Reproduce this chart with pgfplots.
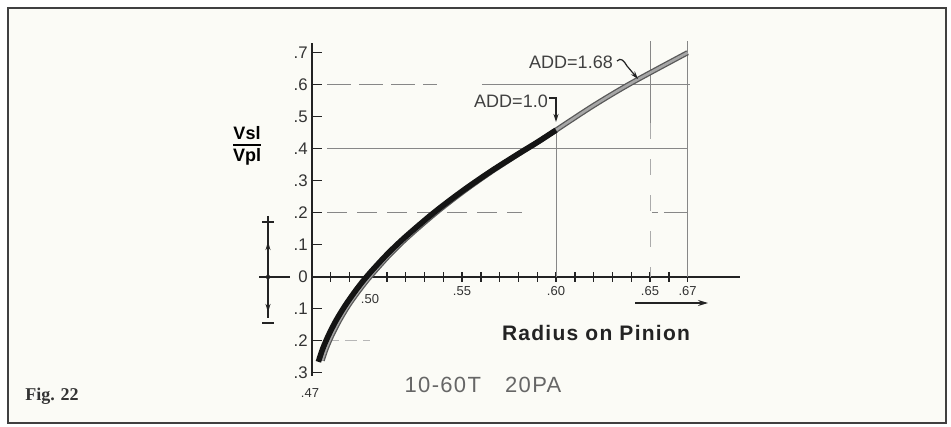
\documentclass[border=0pt]{standalone}
\usepackage{pgfplots}
\pgfplotsset{compat=1.18}
\usepackage{fontspec}
\setmainfont{Liberation Sans}
\newfontfamily\figserif{Liberation Serif}
\newfontfamily\spacedsans[LetterSpace=6]{Liberation Sans}
\usetikzlibrary{arrows.meta}
\definecolor{paper}{RGB}{251,251,246}
\definecolor{gridgray}{RGB}{135,135,135}
\definecolor{ink}{RGB}{35,35,35}
\begin{document}
\begin{tikzpicture}
\path[use as bounding box] (0,0) rectangle (475.5pt,213.5pt);
\fill[white] (0,0) rectangle (475.5pt,213.5pt);
\fill[paper] (4pt,2pt) rectangle (473pt,209.5pt);
\draw[line width=1pt, black!75] (4pt,2pt) rectangle (473pt,209.5pt);
\begin{axis}[
  at={(155.8pt,25.55pt)}, anchor=south west,
  x=940pt, y=160pt,
  xmin=0.47, xmax=0.698, ymin=-0.31, ymax=0.73,
  axis x line=middle, axis y line=left,
  axis line style={-, line width=0.9pt, ink},
  clip=false,
  tick align=center, major tick length=5pt, minor tick length=5pt,
  every tick/.style={ink, line width=0.7pt},
  ytick style={xshift=2.5pt},
  xtick={0.50,0.55,0.60,0.65,0.67},
  xticklabels={{},.55,.60,.65,.67},
  minor xtick={0.48,0.49,0.51,0.52,0.53,0.54,0.56,0.57,0.58,0.59,0.61,0.62,0.63,0.64,0.66},
  xticklabel style={font=\fontsize{6.5}{6.5}\selectfont, text=black!80, yshift=1pt},
  ytick={-0.3,-0.2,-0.1,0,0.1,0.2,0.3,0.4,0.5,0.6,0.7},
  yticklabels={.3,.2,.1,0,.1,.2,.3,.4,.5,.6,.7},
  yticklabel style={font=\fontsize{8.4}{9}\selectfont, text=black!80, inner sep=0.8pt, xshift=1.5pt},
  /pgf/number format/assume math mode=true,
]
% drafting grid lines
\addplot[gridgray, line width=0.5pt, dash pattern=on 12pt off 4pt] coordinates {(0.4782,0.6) (0.5367,0.6)};
\addplot[gridgray, line width=0.5pt] coordinates {(0.5606,0.6) (0.6713,0.6)};
\addplot[gridgray, line width=0.5pt] coordinates {(0.4782,0.4) (0.6702,0.4)};
\addplot[gridgray, line width=0.5pt, dash pattern=on 10pt off 5pt] coordinates {(0.4782,0.2) (0.5820,0.2)};
\addplot[gridgray, line width=0.5pt, dash pattern=on 3pt off 3pt on 10pt off 0pt] coordinates {(0.6510,0.2) (0.6702,0.2)};
\addplot[gridgray!60, line width=0.5pt, dash pattern=on 6pt off 3pt] coordinates {(0.4782,-0.2) (0.5010,-0.2)};
\addplot[gridgray, line width=0.5pt] coordinates {(0.60,0.0) (0.60,0.46)};
\addplot[gridgray, line width=0.5pt] coordinates {(0.65,0.735) (0.65,0.48)};
\addplot[gridgray!70, line width=0.5pt, dash pattern=on 8pt off 10pt] coordinates {(0.65,0.48) (0.65,0.0)};
\addplot[gridgray, line width=0.5pt] coordinates {(0.67,0.0) (0.67,0.735)};
% ADD = 1.68 (grey, outlined)
\addplot[black!65, line width=2.6pt, smooth] coordinates {
 (0.4756,-0.262) (0.4778,-0.224) (0.4808,-0.183) (0.4848,-0.137) (0.4898,-0.088)
 (0.4958,-0.039) (0.5018,0.005) (0.5116,0.069) (0.5214,0.125) (0.5362,0.200)
 (0.5509,0.267) (0.5656,0.328) (0.5803,0.384) (0.5902,0.420) (0.6000,0.458)
 (0.6200,0.535) (0.6400,0.605) (0.6700,0.700)};
\addplot[black!35, line width=1.3pt, smooth] coordinates {
 (0.4756,-0.262) (0.4778,-0.224) (0.4808,-0.183) (0.4848,-0.137) (0.4898,-0.088)
 (0.4958,-0.039) (0.5018,0.005) (0.5116,0.069) (0.5214,0.125) (0.5362,0.200)
 (0.5509,0.267) (0.5656,0.328) (0.5803,0.384) (0.5902,0.420) (0.6000,0.458)
 (0.6200,0.535) (0.6400,0.605) (0.6700,0.700)};
% ADD = 1.0 (black)
\addplot[black!92, line width=2.8pt, smooth] coordinates {
 (0.4736,-0.266) (0.4760,-0.224) (0.4790,-0.183) (0.4830,-0.137) (0.4880,-0.089)
 (0.4940,-0.039) (0.5000,0.005) (0.5100,0.069) (0.5200,0.125) (0.5350,0.200)
 (0.5500,0.267) (0.5650,0.328) (0.5800,0.384) (0.5900,0.420) (0.6000,0.458)};
\end{axis}
\begin{scope}[x=0.5pt,y=-0.5pt,shift={(0pt,213.5pt)}]
% +/- indicator
\draw[ink, line width=0.7pt] (268,226) -- (268,318);
\draw[ink, line width=0.7pt] (262,222) -- (274,222) (268,216) -- (268,228);
\draw[ink, line width=0.7pt] (262,323) -- (274,323);
\draw[ink, line width=0.7pt, -{Stealth[length=4pt,width=2.5pt]}] (268,262) -- (268,242);
\draw[ink, line width=0.7pt, -{Stealth[length=4pt,width=2.5pt]}] (268,292) -- (268,312);
\draw[ink, line width=0.8pt] (259,277) -- (290,277);
\fill[ink] (268,277) circle (2.2);
% arrow under x axis
\draw[ink, line width=0.7pt, -{Stealth[length=5pt,width=3pt]}] (635,303) -- (708,303);
% leaders
\draw[ink, line width=0.6pt, -{Stealth[length=4pt,width=2.5pt]}] (617,61) .. controls (621,57) and (624,61) .. (627,66) -- (638,79);
\draw[ink, line width=0.6pt, -{Stealth[length=4pt,width=2.5pt]}] (549,98) -- (556,98) -- (556,122);
% texts
\node[font=\fontsize{9}{9}\selectfont, text=black!75, inner sep=0pt] at (571,62) {ADD=1.68};
\node[font=\fontsize{9}{9}\selectfont, text=black!75, inner sep=0pt] at (511,101) {ADD=1.0};
\node[font=\bfseries\fontsize{9}{9}\selectfont, inner sep=0pt] at (247,147)
  {\setlength{\arrayrulewidth}{0.9pt}\begin{tabular}{@{}c@{}}Vsl\\[-0.5pt]\hline\rule{0pt}{8pt}Vpl\end{tabular}};
\node[font=\spacedsans\bfseries\fontsize{10.5}{11}\selectfont, text=ink, inner sep=0pt] at (596,333) {Radius on Pinion};
\node[font=\spacedsans\fontsize{11}{12}\selectfont, text=black!60, inner sep=0pt] at (483,385) {10-60T\hspace{1.1em}20PA};
\node[font=\figserif\bfseries\fontsize{9}{10}\selectfont, text=black!80, inner sep=0pt] at (52,396) {Fig. 22};
\node[font=\fontsize{6.5}{6.5}\selectfont, text=black!80, inner sep=0pt] at (310,393) {.47};
\node[font=\fontsize{6.5}{6.5}\selectfont, text=black!80, inner sep=0pt] at (370,299) {.50};
\end{scope}
\end{tikzpicture}
\end{document}
